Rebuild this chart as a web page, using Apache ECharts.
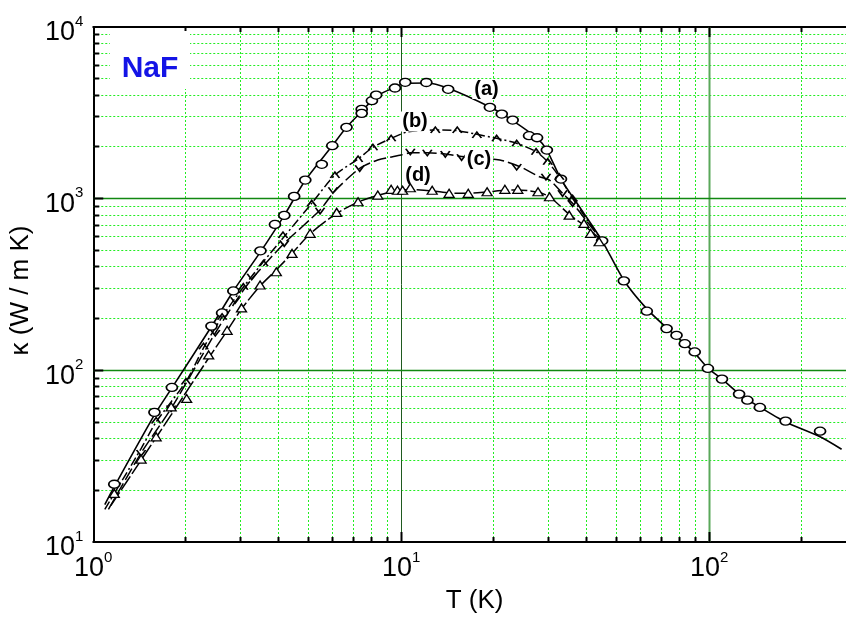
<!DOCTYPE html>
<html><head><meta charset="utf-8">
<script src="https://cdn.jsdelivr.net/npm/echarts@6/dist/echarts.min.js"></script>
<style>html,body{margin:0;padding:0;background:#fff}#c{width:846px;height:623px}</style>
</head><body><div id="c"></div>
<script>
// ---- axis ranges / ticks ----
const xRange = [1, 278];
const yRange = [10, 10000];
const xLabelValues = [1, 10, 100];
const yLabelValues = [10, 100, 1000, 10000];
const xMinor = [2,3,4,5,6,7,8,9,20,30,40,50,60,70,80,90,200];
const yMinor = [20,30,40,50,60,70,80,90,200,300,400,500,600,700,800,900,2000,3000,4000,5000,6000,7000,8000,9000];
const xMajor = [10, 100];
const yMajor = [100, 1000];

// ---- curve (a): circles ----
const aMarks = [[1.17,21.7],[1.58,56.9],[1.80,79.5],[2.42,181],[2.62,216],[2.85,290],[3.49,497],[3.89,708],[4.17,799],[4.49,1031],[4.88,1284],[5.52,1585],[5.97,2034],[6.64,2604],[7.44,3313],[7.44,3140],[8.03,3720],[8.29,4015],[9.54,4412],[10.3,4762],[12.06,4750],[14.2,4335],[19.4,3404],[21.2,3111],[23.0,2871],[26.0,2326],[27.6,2264],[29.7,1919],[33.0,1301],[44.9,568],[52.8,332],[62.7,221],[72.7,175],[78.3,160],[83.3,143],[89.7,128],[99.0,102.6],[110,88.9],[125,72.7],[133,67],[146,60.8],[177,50.6],[229,44.2]];
const aLine = [[1.09,16.5],[1.17,21],[1.58,55],[1.8,79],[2.42,180],[2.85,290],[3.49,490],[4.17,800],[4.88,1280],[5.97,2034],[6.64,2604],[7.44,3220],[8.29,3950],[9.54,4450],[10.3,4700],[12.06,4720],[14.2,4400],[19.4,3420],[23.0,2850],[27.6,2250],[29.7,1919],[33.0,1301],[38.5,860],[44.9,568],[52.8,335],[62.7,228],[72.7,177],[83.3,143],[89.7,126],[99.0,103],[110,89],[125,73],[146,61],[177,50],[229,41],[269,34.7]];

// ---- curve (b): up chevrons ----
const bMarks = [[1.6,51],[2.0,86],[2.28,138],[2.62,205],[3.07,307],[3.57,420],[4.13,614],[5.12,939],[6.09,1372],[7.24,1702],[8.09,1991],[9.27,2246],[12.9,2510],[15.2,2510],[17.6,2348],[20.4,2246],[23.7,2101],[27.4,1877],[29.9,1641],[32.6,1341],[36.0,1004]];
const bLine = [[1.09,15.5],[1.43,35],[1.6,50],[2.0,86],[2.28,135],[2.62,205],[3.07,305],[3.57,430],[4.13,590],[5.12,939],[6.09,1372],[7.24,1702],[8.09,1991],[9.27,2246],[10.5,2450],[12.9,2510],[15.2,2490],[17.6,2370],[20.4,2246],[23.7,2101],[27.4,1877],[29.9,1641],[32.6,1341],[36.0,1004],[40,760],[44.9,568]];

// ---- curve (c): down chevrons ----
const cMarks = [[1.43,33],[1.79,60],[2.49,165],[2.89,256],[3.27,351],[4.17,549],[5.45,850],[6.0,1120],[7.33,1502],[10.7,1877],[12.15,1852],[13.9,1820],[15.7,1741],[23.7,1530],[29.5,1341],[33.4,1074],[36,939]];
const cLine = [[1.12,15.5],[1.43,33],[1.79,60],[2.49,165],[2.89,250],[3.27,340],[4.17,549],[5.45,860],[6.09,1110],[7.33,1502],[8.39,1679],[9.98,1795],[10.7,1850],[12.15,1852],[13.9,1820],[15.7,1760],[20.9,1679],[24.3,1535],[28.1,1341],[30.3,1284],[33.4,1074],[36,939],[40,740],[44.9,568]];

// ---- curve (d): triangles ----
const dMarks = [[1.17,19.2],[1.43,30.4],[1.6,41],[1.79,61.3],[2.01,68.6],[2.37,123],[2.72,171],[3.03,231],[3.48,314],[3.93,375],[4.42,480],[5.06,628],[6.17,832],[7.24,959],[8.39,1049],[9.27,1133],[9.72,1120],[10.1,1120],[10.7,1158],[12.6,1120],[14.3,1074],[16.5,1074],[19.0,1097],[21.7,1133],[23.9,1133],[27.8,1097],[30.3,1026],[35.1,802],[39.2,718],[41.2,628],[43.9,561]];
const dLine = [[1.14,16.3],[1.43,30],[1.79,55],[2.37,118],[2.72,170],[3.03,228],[3.48,310],[3.93,385],[4.42,480],[5.06,625],[6.17,820],[7.24,955],[8.39,1045],[9.5,1100],[10.7,1130],[12.6,1110],[14.3,1080],[16.5,1075],[19.0,1095],[21.7,1120],[23.9,1125],[27.8,1090],[30.3,1026],[35.1,810],[39.2,700],[44.9,568]];

const FONT = '"Liberation Sans", Arial, sans-serif';
const chart = echarts.init(document.getElementById('c'), null, {renderer: 'canvas'});

function minorStyle() { return {stroke: '#22ee22', lineWidth: 1, lineDash: [2, 2], fill: null}; }
function crisp(v) { return Math.round(v - 0.5) + 0.5; }
function tickStyle(w) { return {stroke: '#000', lineWidth: w, fill: null}; }
function xGridRender(styleFn, tickLen, tickW) {
  return function (params, api) {
    const v = api.value(0);
    const b = api.coord([v, yRange[0]]);
    const t = api.coord([v, yRange[1]]);
    const x = crisp(b[0]);
    return {type: 'group', children: [
      {type: 'line', shape: {x1: x, y1: b[1], x2: x, y2: t[1]}, style: styleFn(v)},
      {type: 'line', shape: {x1: x, y1: b[1], x2: x, y2: b[1] - tickLen}, style: tickStyle(tickW)},
      {type: 'line', shape: {x1: x, y1: t[1], x2: x, y2: t[1] + tickLen}, style: tickStyle(tickW)}
    ]};
  };
}
function yGridRender(styleFn, tickLen, tickW) {
  return function (params, api) {
    const v = api.value(1);
    const l = api.coord([xRange[0], v]);
    const r = api.coord([xRange[1], v]);
    const y = crisp(l[1]);
    return {type: 'group', children: [
      {type: 'line', shape: {x1: l[0], y1: y, x2: r[0], y2: y}, style: styleFn(v)},
      {type: 'line', shape: {x1: l[0], y1: y, x2: l[0] + tickLen, y2: y}, style: tickStyle(tickW)}
    ]};
  };
}
function supLabel(v) {
  const lg = Math.log10(v);
  const e = Math.round(lg);
  if (Math.abs(lg - e) > 1e-6) return '';
  return '{b|10}{s|' + e + '}';
}
const labelRich = {
  b: {fontSize: 27, fontFamily: FONT, color: '#000', lineHeight: 38},
  s: {fontSize: 15, fontFamily: FONT, color: '#000', verticalAlign: 'top', lineHeight: 15}
};
const axisLineStyle = {show: true, onZero: false, lineStyle: {color: '#000', width: 2}};

const option = {
  animation: false,
  backgroundColor: '#fff',
  grid: {left: 86, top: 27, right: 0, bottom: 81, containLabel: false},
  xAxis: [
    {type: 'log', logBase: 10, min: xRange[0], max: xRange[1], position: 'bottom',
     axisLine: axisLineStyle, axisTick: {show: false}, splitLine: {show: false},
     axisLabel: {customValues: xLabelValues, formatter: supLabel, rich: labelRich, margin: 8},
     name: 'T (K)', nameLocation: 'middle', nameGap: 46,
     nameTextStyle: {fontSize: 26, fontFamily: FONT, color: '#000', padding: [0, 0, 0, 10]}},
    {type: 'log', logBase: 10, min: xRange[0], max: xRange[1], position: 'top',
     axisLine: axisLineStyle, axisTick: {show: false}, splitLine: {show: false}, axisLabel: {show: false}}
  ],
  yAxis: [
    {type: 'log', logBase: 10, min: yRange[0], max: yRange[1], position: 'left',
     axisLine: axisLineStyle, axisTick: {show: false}, splitLine: {show: false},
     axisLabel: {customValues: yLabelValues, formatter: supLabel, rich: labelRich, margin: 10, padding: [12, 0, 0, 0]},
     name: 'κ (W / m K)', nameLocation: 'middle', nameGap: 46,
     nameTextStyle: {fontSize: 26, fontFamily: FONT, color: '#000', padding: [0, 12, 0, 0]}}
  ],
  series: [
    {type: 'custom', name: 'xMinorGrid', silent: true, z: 1, renderItem: xGridRender(minorStyle, 5, 2),
     data: xMinor.map(v => [v, yRange[0]])},
    {type: 'custom', name: 'yMinorGrid', silent: true, z: 1, renderItem: yGridRender(minorStyle, 6, 2),
     data: yMinor.map(v => [xRange[0], v])},
    {type: 'custom', name: 'xMajorGrid', silent: true, z: 1,
     renderItem: xGridRender(v => (v === 10 ? {stroke: '#1f5a1f', lineWidth: 1, fill: null} : {stroke: '#5aa85a', lineWidth: 2, fill: null}), 10, 2),
     data: xMajor.map(v => [v, yRange[0]])},
    {type: 'custom', name: 'yMajorGrid', silent: true, z: 1,
     renderItem: yGridRender(() => ({stroke: '#118811', lineWidth: 1.5, fill: null}), 10, 2),
     data: yMajor.map(v => [xRange[0], v])},

    {type: 'line', name: 'a-line', data: aLine, smooth: 0.25, symbol: 'none', silent: true, z: 3,
     lineStyle: {color: '#000', width: 1.6}},
    {type: 'line', name: 'b-line', data: bLine, smooth: 0.25, symbol: 'none', silent: true, z: 3,
     lineStyle: {color: '#000', width: 1.5, type: [9, 3, 2, 3]}},
    {type: 'line', name: 'c-line', data: cLine, smooth: 0.25, symbol: 'none', silent: true, z: 3,
     lineStyle: {color: '#000', width: 1.5, type: [13, 4]}},
    {type: 'line', name: 'd-line', data: dLine, smooth: 0.25, symbol: 'none', silent: true, z: 3,
     lineStyle: {color: '#000', width: 1.5, type: [16, 3]}},

    {type: 'scatter', name: 'a', data: aMarks, symbol: 'circle', symbolSize: [11, 8], silent: true, z: 4,
     itemStyle: {color: '#fff', borderColor: '#000', borderWidth: 1.5, opacity: 1}},
    {type: 'scatter', name: 'b', data: bMarks, symbol: 'path://M0,10L5,0L10,10', symbolSize: [9, 6], silent: true, z: 4,
     itemStyle: {color: 'rgba(0,0,0,0)', borderColor: '#000', borderWidth: 1.5, opacity: 1}},
    {type: 'scatter', name: 'c', data: cMarks, symbol: 'path://M0,0L5,10L10,0', symbolSize: [9, 6], silent: true, z: 4,
     itemStyle: {color: 'rgba(0,0,0,0)', borderColor: '#000', borderWidth: 1.5, opacity: 1}},
    {type: 'scatter', name: 'd', data: dMarks, symbol: 'triangle', symbolSize: [10, 8], silent: true, z: 4,
     itemStyle: {color: '#fff', borderColor: '#000', borderWidth: 1.3, opacity: 1}}
  ],
  graphic: [
    {type: 'rect', z: 50, shape: {x: 110, y: 31, width: 80, height: 58}, style: {fill: '#fff'}},
    {type: 'text', z: 51, x: 150, y: 69, style: {text: 'NaF', textAlign: 'center', textVerticalAlign: 'middle',
      font: 'bold 30px ' + FONT, fill: '#1414e6'}},
    {type: 'text', z: 51, x: 486.5, y: 89, style: {text: '(a)', textAlign: 'center', textVerticalAlign: 'middle',
      font: 'bold 20px ' + FONT, fill: '#000', backgroundColor: '#fff', padding: [0, 2]}},
    {type: 'text', z: 51, x: 415, y: 121.5, style: {text: '(b)', textAlign: 'center', textVerticalAlign: 'middle',
      font: 'bold 20px ' + FONT, fill: '#000', backgroundColor: '#fff', padding: [0, 2]}},
    {type: 'text', z: 51, x: 479, y: 159, style: {text: '(c)', textAlign: 'center', textVerticalAlign: 'middle',
      font: 'bold 20px ' + FONT, fill: '#000', backgroundColor: '#fff', padding: [0, 2]}},
    {type: 'text', z: 51, x: 418, y: 175, style: {text: '(d)', textAlign: 'center', textVerticalAlign: 'middle',
      font: 'bold 20px ' + FONT, fill: '#000', backgroundColor: '#fff', padding: [0, 2]}}
  ]
};
chart.setOption(option);
</script>
</body></html>
